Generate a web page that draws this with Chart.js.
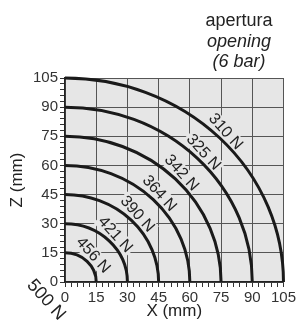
<!DOCTYPE html>
<html>
<head>
<meta charset="utf-8">
<script src="https://cdn.jsdelivr.net/npm/chart.js@4"></script>
<style>
  html, body { margin: 0; padding: 0; background: #fff; }
  #wrap { width: 298px; height: 322px; }
</style>
</head>
<body>
<div id="wrap"><canvas id="chart" width="298" height="322"></canvas></div>
<script>
// apertura (6 bar) - forza per raggio
var radii = [15, 30, 45, 60, 75, 90, 105];
var forces = ['456 N', '421 N', '390 N', '364 N', '342 N', '325 N', '310 N'];
var originForce = '500 N';
var titleLines = ['apertura', 'opening', '(6 bar)'];
var axisMax = 105;
var majorStep = 15;
var minorStep = 3;

var plotBg = '#e6e6e6';
var FONT = '"Liberation Sans", Arial, sans-serif';

function labelAt(ctx, x, y, text, withBg, size) {
  ctx.save();
  ctx.translate(x, y);
  ctx.rotate(48 * Math.PI / 180);
  ctx.font = (size || 16) + 'px ' + FONT;
  if (withBg) {
    var w = ctx.measureText(text).width;
    ctx.fillStyle = plotBg;
    ctx.fillRect(-w / 2 - 2, -8, w + 4, 16);
  } else {
    ctx.fillStyle = '#222';
    ctx.textAlign = 'center';
    ctx.textBaseline = 'middle';
    ctx.fillText(text, 0, 0);
  }
  ctx.restore();
}

function arcGeom(meta) {
  var p0 = meta.data[0], p1 = meta.data[1];
  var cx = p1.x, cy = p0.y;
  return { cx: cx, cy: cy, rx: p0.x - cx, ry: cy - p1.y };
}

function labelPoint(g) {
  var k = Math.SQRT1_2, off = 8.5;
  return { x: g.cx + g.rx * k + off * k, y: g.cy - g.ry * k - off * k };
}

var arcPlugin = {
  id: 'arcs',
  beforeDraw: function(chart) {
    var a = chart.chartArea, ctx = chart.ctx;
    ctx.save();
    ctx.fillStyle = plotBg;
    ctx.fillRect(a.left, a.top, a.right - a.left, a.bottom - a.top);
    ctx.restore();
  },
  beforeDatasetsDraw: function(chart) {
    var ctx = chart.ctx;
    chart.data.datasets.forEach(function(ds, i) {
      var g = arcGeom(chart.getDatasetMeta(i));
      var p = labelPoint(g);
      labelAt(ctx, p.x, p.y, ds.label, true);
    });
  },
  afterDatasetsDraw: function(chart) {
    var ctx = chart.ctx, a = chart.chartArea;
    ctx.save();
    ctx.beginPath();
    ctx.rect(a.left, a.top - 2, a.right - a.left + 2, a.bottom - a.top + 2);
    ctx.clip();
    chart.data.datasets.forEach(function(ds, i) {
      var g = arcGeom(chart.getDatasetMeta(i));
      ctx.beginPath();
      ctx.ellipse(g.cx, g.cy, g.rx, g.ry, 0, -Math.PI / 2, 0);
      ctx.lineWidth = 3;
      ctx.strokeStyle = '#1a1a1a';
      ctx.stroke();
    });
    ctx.restore();
    chart.data.datasets.forEach(function(ds, i) {
      var g = arcGeom(chart.getDatasetMeta(i));
      var p = labelPoint(g);
      labelAt(ctx, p.x, p.y, ds.label, false);
    });
    // 500 N all'origine
    var ox = chart.scales.x.getPixelForValue(0), oy = chart.scales.y.getPixelForValue(0);
    labelAt(ctx, ox - 19, oy + 18, originForce, false, 18);
    // titolo
    ctx.save();
    ctx.fillStyle = '#222';
    ctx.textAlign = 'center';
    ctx.textBaseline = 'alphabetic';
    titleLines.forEach(function(t, i) {
      ctx.font = (i === 0 ? '' : 'italic ') + '18px ' + FONT;
      ctx.fillText(t, 239, 26 + i * 20.5);
    });
    ctx.restore();
  }
};

function axis(title, fit, pad) {
  return {
    type: 'linear',
    min: 0,
    max: axisMax,
    afterFit: fit,
    ticks: {
      stepSize: minorStep,
      autoSkip: false,
      maxRotation: 0,
      padding: 2,
      color: '#333',
      font: { family: FONT, size: 15 },
      callback: function(v) { return v % majorStep === 0 ? String(v) : ''; }
    },
    grid: {
      color: function(c) { return c.tick && c.tick.value % majorStep === 0 ? '#555' : 'rgba(0,0,0,0)'; },
      tickColor: '#333',
      tickLength: 5,
      lineWidth: 1
    },
    border: { color: '#222', width: 1.5 },
    title: {
      display: true,
      text: title,
      color: '#222',
      font: { family: FONT, size: 17 },
      padding: pad
    }
  };
}

new Chart(document.getElementById('chart'), {
  type: 'scatter',
  data: {
    datasets: radii.map(function(r, i) {
      return { label: forces[i], data: [{ x: r, y: 0 }, { x: 0, y: r }], pointRadius: 0, showLine: false };
    })
  },
  options: {
    responsive: false,
    animation: false,
    layout: { padding: { top: 78, right: 12, left: 0, bottom: 0 } },
    plugins: { legend: { display: false }, tooltip: { enabled: false } },
    scales: {
      x: axis('X (mm)', function(s) { s.height = 40; }, { top: 0, bottom: 0 }),
      y: axis('Z (mm)', function(s) { s.width = 65; }, { top: 7, bottom: 0 })
    }
  },
  plugins: [arcPlugin]
});
</script>
</body>
</html>
